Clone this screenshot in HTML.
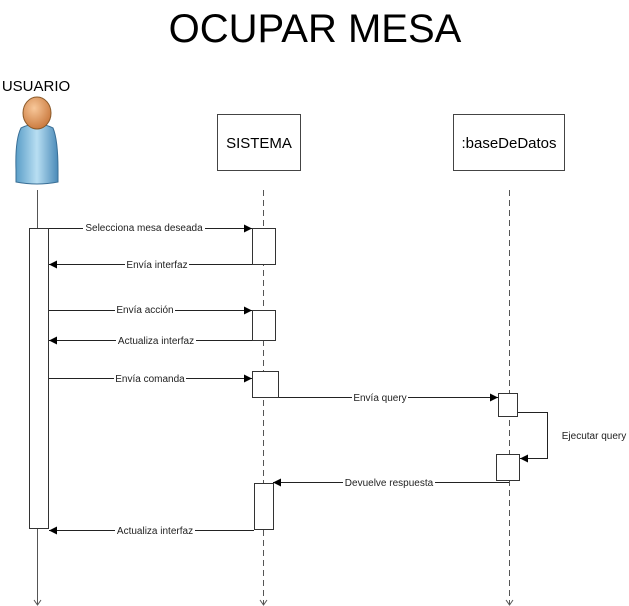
<!DOCTYPE html>
<html><head><meta charset="utf-8"><style>
html,body{margin:0;padding:0;background:#fff;}
svg{display:block;font-family:"Liberation Sans",sans-serif;}
.l{font-size:10px;fill:#222;}
</style></head><body>
<svg width="629" height="606" viewBox="0 0 629 606" xmlns="http://www.w3.org/2000/svg">
<defs>
<marker id="a" markerWidth="8" markerHeight="8" refX="8" refY="4" orient="auto" markerUnits="userSpaceOnUse">
<path d="M0,0 L8,4 L0,8 z" fill="#000"/></marker>
<linearGradient id="bd" x1="0" x2="1"><stop offset="0" stop-color="#5a9ec8"/><stop offset="0.5" stop-color="#b8def2"/><stop offset="1" stop-color="#4a8ab8"/></linearGradient>
<radialGradient id="hd" cx="0.4" cy="0.35" r="0.7"><stop offset="0" stop-color="#f8c89a"/><stop offset="1" stop-color="#c8763a"/></radialGradient>
</defs>
<text x="315" y="42" font-size="40" text-anchor="middle" fill="#000">OCUPAR MESA</text>
<text x="36" y="91" font-size="15" text-anchor="middle" fill="#000">USUARIO</text>
<path d="M21,128 Q37,120 53,128 Q58,140 58,170 L58,182 Q37,186 16,182 L16,170 Q15,140 21,128 z" fill="url(#bd)" stroke="#3a6f96" stroke-width="1"/>
<ellipse cx="37" cy="113" rx="14" ry="16" fill="url(#hd)" stroke="#8a5a2a" stroke-width="1"/>
<rect x="217.5" y="114.5" width="83" height="56" fill="#fff" stroke="#444"/>
<text x="259" y="148" font-size="15" text-anchor="middle">SISTEMA</text>
<rect x="453.5" y="114.5" width="111" height="56" fill="#fff" stroke="#444"/>
<text x="509" y="148" font-size="15" text-anchor="middle">:baseDeDatos</text>
<line x1="37.5" y1="190" x2="37.5" y2="604" stroke="#555"/>
<line x1="263.5" y1="190" x2="263.5" y2="604" stroke="#555" stroke-dasharray="6,4"/>
<line x1="509.5" y1="190" x2="509.5" y2="604" stroke="#555" stroke-dasharray="6,4"/>
<path d="M34,600 L37.5,605 L41,600 M260,600 L263.5,605 L267,600 M506,600 L509.5,605 L513,600" fill="none" stroke="#555"/>
<g fill="#fff" stroke="#333">
<rect x="29.5" y="228.5" width="19" height="300"/>
<rect x="252.5" y="228.5" width="23" height="36"/>
<rect x="252.5" y="310.5" width="23" height="30"/>
<rect x="252.5" y="371.5" width="26" height="26"/>
<rect x="254.5" y="483.5" width="19" height="46"/>
<rect x="498.5" y="393.5" width="19" height="23"/>
<rect x="496.5" y="454.5" width="23" height="26"/>
</g>
<g stroke="#222" stroke-width="1" fill="none">
<line x1="49" y1="228.5" x2="252" y2="228.5" marker-end="url(#a)"/>
<line x1="252" y1="264.5" x2="49" y2="264.5" marker-end="url(#a)"/>
<line x1="49" y1="310.5" x2="252" y2="310.5" marker-end="url(#a)"/>
<line x1="252" y1="340.5" x2="49" y2="340.5" marker-end="url(#a)"/>
<line x1="49" y1="378.5" x2="252" y2="378.5" marker-end="url(#a)"/>
<line x1="279" y1="397.5" x2="498" y2="397.5" marker-end="url(#a)"/>
<polyline points="518,412.5 547.5,412.5 547.5,458.5 520,458.5" marker-end="url(#a)"/>
<line x1="509" y1="482.5" x2="273" y2="482.5" marker-end="url(#a)"/>
<line x1="254" y1="530.5" x2="49" y2="530.5" marker-end="url(#a)"/>
</g>
<g class="l" text-anchor="middle">
<rect x="83" y="222" width="122" height="12" fill="#fff"/><text x="144" y="231">Selecciona mesa deseada</text>
<rect x="125" y="258" width="64" height="12" fill="#fff"/><text x="157" y="268">Envía interfaz</text>
<rect x="115" y="304" width="60" height="12" fill="#fff"/><text x="145" y="313">Envía acción</text>
<rect x="116" y="334" width="80" height="12" fill="#fff"/><text x="156" y="344">Actualiza interfaz</text>
<rect x="114" y="372" width="72" height="12" fill="#fff"/><text x="150" y="382">Envía comanda</text>
<rect x="352" y="391" width="56" height="12" fill="#fff"/><text x="380" y="401">Envía query</text>
<text x="594" y="439">Ejecutar query</text>
<rect x="343" y="476" width="92" height="12" fill="#fff"/><text x="389" y="486">Devuelve respuesta</text>
<rect x="115" y="524" width="80" height="12" fill="#fff"/><text x="155" y="534">Actualiza interfaz</text>
</g>
</svg>
</body></html>
